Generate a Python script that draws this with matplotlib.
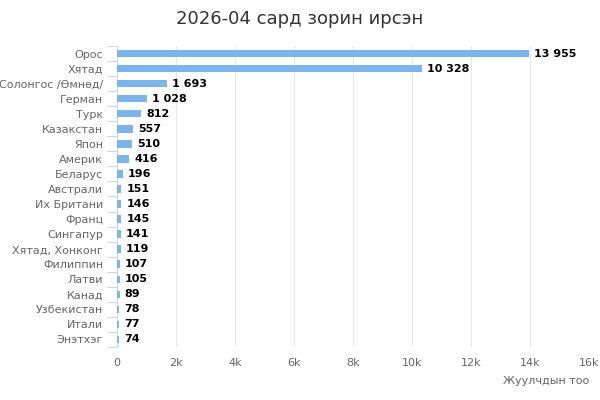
import matplotlib
matplotlib.use('Agg')
import matplotlib.pyplot as plt

# Data
countries = ['Орос', 'Хятад', 'Солонгос /Өмнөд/', 'Герман', 'Турк', 'Казакстан',
             'Япон', 'Америк', 'Беларус', 'Австрали', 'Их Британи', 'Франц',
             'Сингапур', 'Хятад, Хонконг', 'Филиппин', 'Латви', 'Канад',
             'Узбекистан', 'Итали', 'Энэтхэг']
tourists = [13955, 10328, 1693, 1028, 812, 557, 510, 416, 196, 151, 146, 145,
            141, 119, 107, 105, 89, 78, 77, 74]
x_ticks = [0, 2000, 4000, 6000, 8000, 10000, 12000, 14000, 16000]
x_tick_labels = ['0', '2k', '4k', '6k', '8k', '10k', '12k', '14k', '16k']

plt.rcParams['font.family'] = ['DejaVu Sans']

fig = plt.figure(figsize=(6, 4), dpi=100)
ax = fig.add_axes([0.195, 0.1325, 0.787, 0.7525])

y = list(range(len(countries)))
ax.barh(y, tourists, height=0.5, color='#7cb5ec', zorder=3)

for yi, v in zip(y, tourists):
    ax.text(v + 170, yi, f'{v:,}'.replace(',', ' '), va='center', ha='left',
            fontsize=8, fontweight='bold', color='#000000', zorder=4)

ax.set_ylim(len(countries) - 0.5, -0.5)
ax.set_xlim(0, 16000)
ax.set_yticks(y)
ax.set_yticklabels(countries, fontsize=8, color='#666666')
ax.set_xticks(x_ticks)
ax.set_xticklabels(x_tick_labels, fontsize=8, color='#666666')

# category separator ticks on the y axis
ax.set_yticks([i - 0.5 for i in range(len(countries) + 1)], minor=True)
ax.tick_params(axis='y', which='major', length=0, pad=10)
ax.tick_params(axis='y', which='minor', length=7.5, color='#ccd6eb', width=0.8)
ax.tick_params(axis='x', length=0, pad=8)

ax.grid(axis='x', color='#e6e6e6', linewidth=0.8, zorder=0)
for s in ['top', 'right', 'bottom']:
    ax.spines[s].set_visible(False)
ax.spines['left'].set_color('#ccd6eb')
ax.spines['left'].set_linewidth(0.8)

ax.set_xlabel('Жуулчдын тоо', fontsize=8, color='#666666', loc='right', labelpad=6)
fig.suptitle('2026-04 сард зорин ирсэн', fontsize=13, color='#333333', y=0.975)

fig.savefig('out.png', dpi=100)
